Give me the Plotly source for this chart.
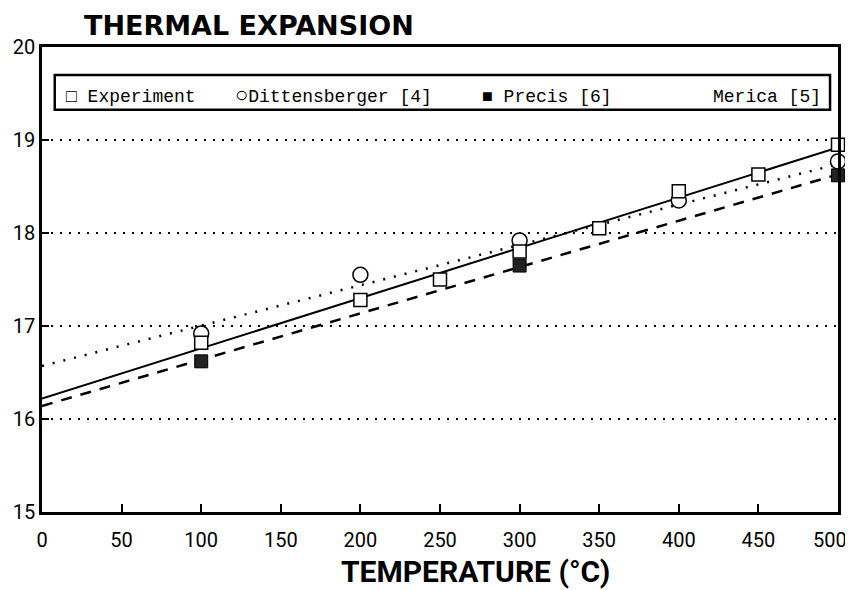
import plotly.graph_objects as go

# Data
exp_x = [100, 200, 250, 300, 350, 400, 450, 500]
exp_y = [16.82, 17.28, 17.50, 17.80, 18.05, 18.45, 18.63, 18.95]
dit_x = [100, 200, 300, 400, 500]
dit_y = [16.92, 17.55, 17.92, 18.35, 18.77]
pre_x = [100, 300, 500]
pre_y = [16.62, 17.65, 18.62]
fit_x = [0, 500]
exp_fit_y = [16.22, 18.92]
pre_fit_y = [16.14, 18.63]
mer_fit_y = [16.57, 18.74]

x_ticks = [0, 50, 100, 150, 200, 250, 300, 350, 400, 450, 500]
y_ticks = [15, 16, 17, 18, 19, 20]

fig = go.Figure()
fig.add_trace(go.Scatter(x=fit_x, y=mer_fit_y, mode="lines",
                         line=dict(color="black", width=2.5, dash="2px,9px"), showlegend=False))
fig.add_trace(go.Scatter(x=fit_x, y=pre_fit_y, mode="lines",
                         line=dict(color="black", width=2.5, dash="11px,9px"), showlegend=False))
fig.add_trace(go.Scatter(x=fit_x, y=exp_fit_y, mode="lines",
                         line=dict(color="black", width=2), showlegend=False))
fig.add_trace(go.Scatter(x=dit_x, y=dit_y, mode="markers", name="Dittensberger [4]", cliponaxis=False,
                         marker=dict(symbol="circle", size=15, color="white",
                                     line=dict(color="black", width=1.5)), showlegend=False))
fig.add_trace(go.Scatter(x=pre_x, y=pre_y, mode="markers", name="Precis [6]", cliponaxis=False,
                         marker=dict(symbol="square", size=13, color="#222",
                                     line=dict(color="black", width=1)), showlegend=False))
fig.add_trace(go.Scatter(x=exp_x, y=exp_y, mode="markers", name="Experiment", cliponaxis=False,
                         marker=dict(symbol="square", size=13, color="white",
                                     line=dict(color="black", width=1.5)), showlegend=False))

tick_font = dict(family="Liberation Sans Narrow, Roboto, sans-serif", size=20, color="black")

# last x label is drawn as an annotation so it can sit left of its tick, as in the reference
x_ticktext = [str(v) for v in x_ticks[:-1]] + [""]

fig.update_xaxes(range=[0, 500], tickvals=x_ticks, ticktext=x_ticktext,
                 showline=True, linecolor="black", linewidth=2.5, mirror=True,
                 ticks="inside", ticklen=8, tickwidth=2, tickcolor="black",
                 showgrid=False, zeroline=False, tickfont=tick_font, ticklabelstandoff=8,
                 ticklabeloverflow="allow", automargin=False)
fig.update_yaxes(range=[15, 20], tickvals=y_ticks, ticktext=[str(v) for v in y_ticks],
                 showline=True, linecolor="black", linewidth=2.5, mirror=True,
                 ticks="inside", ticklen=7, tickwidth=2, tickcolor="black",
                 showgrid=True, gridcolor="black", gridwidth=1.5, griddash="2px,7px",
                 zeroline=False, tickfont=tick_font, ticklabeloverflow="allow", automargin=False)

legend_font = dict(family="Liberation Mono, DejaVu Sans Mono, monospace", size=18, color="black")
items = [("□ Experiment", 0.028),
         ("<span style='font-size:22px'>○</span>Dittensberger [4]", 0.24),
         ("■ Precis [6]", 0.55),
         ("Merica [5]", 0.84)]
annotations = []
for txt, xp in items:
    annotations.append(dict(text=txt, x=xp, y=0.893, xref="paper", yref="paper",
                            xanchor="left", yanchor="middle", showarrow=False, font=legend_font))
annotations.append(dict(text=str(x_ticks[-1]), x=x_ticks[-1], xref="x", y=0, yref="paper",
                        xanchor="right", yanchor="top", xshift=11, yshift=-14,
                        showarrow=False, font=tick_font))
annotations.append(dict(text="<b>THERMAL EXPANSION</b>", x=0.05, y=1.047, xref="paper", yref="paper",
                        xanchor="left", yanchor="middle", showarrow=False,
                        font=dict(family="DejaVu Sans, sans-serif", size=27, color="black")))
annotations.append(dict(text="<b>TEMPERATURE (°C)</b>", x=0.544, y=-0.129, xref="paper", yref="paper",
                        xanchor="center", yanchor="middle", showarrow=False,
                        font=dict(family="Liberation Sans Narrow, Roboto, sans-serif", size=30, color="black")))

# page body adds an 8px offset; size the figure so the plot area lands where the reference has it
fig.update_layout(
    width=845, height=582,
    margin=dict(l=34, r=15, t=39, b=78),
    paper_bgcolor="white", plot_bgcolor="white",
    annotations=annotations,
    shapes=[dict(type="rect", xref="paper", yref="paper", x0=0.016, x1=0.99, y0=0.865, y1=0.94,
                 line=dict(color="black", width=2.5), fillcolor="white", layer="above")],
    showlegend=False,
)
fig.write_html("out.html")
